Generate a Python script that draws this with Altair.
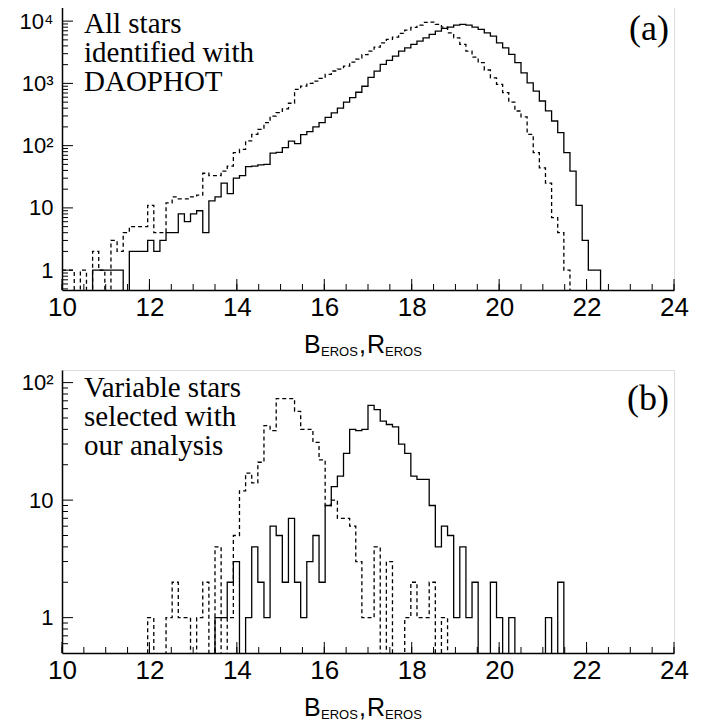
import altair as alt
import pandas as pd

BIN_START = 10.0
BIN_WIDTH = 0.14

# Panel (a): all stars identified with DAOPHOT (counts per 0.14 mag bin, 10..24)
A_SOLID = [0, 0, 0, 0, 0, 1, 1, 1, 1, 1,
           0, 2, 2, 2, 3, 2, 3, 4, 4, 8,
           6, 8, 9, 4, 13, 15, 25, 17, 30, 33,
           46, 47, 49, 50, 76, 78, 93, 118, 108, 150,
           168, 200, 235, 285, 335, 400, 500, 590, 720, 900,
           1250, 1578, 2017, 2340, 2747, 3300, 3730, 4220, 4780, 5400,
           6110, 6910, 7630, 8020, 8630, 8850, 8630, 8020, 7350, 6500,
           5750, 4490, 3730, 2920, 2150, 1480, 1020, 753, 521, 361,
           249, 162, 77, 39, 11, 3, 1, 1, 0, 0,
           0, 0, 0, 0, 0, 0, 0, 0, 0, 0]
A_DASHED = [1, 1, 0, 1, 0, 2, 1, 0, 3, 2,
            4, 5, 5, 5, 11, 4, 4, 12, 15, 14,
            14, 15, 16, 36, 33, 33, 39, 47, 77, 87,
            119, 152, 183, 234, 299, 340, 390, 480, 800, 905,
            1000, 1090, 1200, 1400, 1580, 1700, 1900, 2200, 2450, 2900,
            3300, 3830, 4490, 5080, 5540, 6340, 7170, 7910, 8630, 9520,
            9640, 8850, 8020, 6500, 5400, 4220, 3300, 2640, 2150, 1640,
            1230, 964, 708, 500, 360, 290, 152, 77, 44, 25,
            7, 4, 1, 0, 0, 0, 0, 0, 0, 0,
            0, 0, 0, 0, 0, 0, 0, 0, 0, 0]

# Panel (b): variable stars selected with our analysis
B_SOLID = [0, 0, 0, 0, 0, 0, 0, 0, 0, 0,
           0, 0, 0, 0, 0, 0, 0, 0, 0, 0,
           0, 0, 0, 0, 0, 1, 1, 2, 3, 0,
           1, 4, 2, 1, 6, 5, 2, 7, 2, 1,
           3, 5, 2, 9, 13, 16, 25, 40, 39, 40,
           64, 59, 47, 44, 42, 30, 25, 16, 15, 15,
           9, 4, 6, 5, 1, 4, 1, 2, 0, 0,
           2, 1, 0, 1, 0, 0, 0, 0, 0, 1,
           0, 2, 0, 0, 0, 0, 0, 0, 0, 0,
           0, 0, 0, 0, 0, 0, 0, 0, 0, 0]
B_DASHED = [0, 0, 0, 0, 0, 0, 0, 0, 0, 0,
            0, 0, 0, 0, 1, 0, 0, 1, 2, 1,
            1, 0, 1, 2, 0, 4, 0, 1, 5, 12,
            17, 14, 21, 43, 39, 73, 73, 73, 57, 40,
            40, 31, 22, 9, 10, 7, 7, 6, 3, 1,
            1, 4, 0, 3, 0, 0, 1, 2, 1, 1,
            2, 0, 1, 0, 0, 0, 0, 0, 0, 0,
            0, 0, 0, 0, 0, 0, 0, 0, 0, 0,
            0, 0, 0, 0, 0, 0, 0, 0, 0, 0,
            0, 0, 0, 0, 0, 0, 0, 0, 0, 0]

X_TICKS = [10, 12, 14, 16, 18, 20, 22, 24]
X_MINOR = [10 + 0.5 * i for i in range(29)]
Y_TICKS_A = [1, 10, 100, 1000, 10000]
Y_LABELS_A = ["1", "10", "10\u00b2", "10\u00b3", "10\u2074"]
Y_TICKS_B = [1, 10, 100]
Y_LABELS_B = ["1", "10", "10\u00b2"]
TEXT_A = ["All stars", "identified with", "DAOPHOT"]
TEXT_B = ["Variable stars", "selected with", "our analysis"]
TAG_A = "(a)"
TAG_B = "(b)"

W = 612
H_A = 284
H_B = 283
DOM_A = [0.48, 17500]
DOM_B = [0.5, 128]


def hist_frame(values, series):
    edges = [BIN_START + BIN_WIDTH * i for i in range(len(values) + 1)]
    counts = list(values) + [values[-1]]
    return pd.DataFrame({"edge": edges, "count": counts, "series": series})


def label_expr(ticks, labels):
    expr = "''"
    for v, lab in reversed(list(zip(ticks, labels))):
        expr = f"datum.value == {v} ? '{lab}' : ({expr})"
    return expr


def panel(solid, dashed, dom, h, ticks, labels, text_lines, tag, tag_y):
    xs = alt.Scale(domain=[10, 24], nice=False, zero=False)
    ys = alt.Scale(type="log", domain=dom, nice=False)
    ax_x = alt.Axis(
        values=X_TICKS, ticks=False, grid=False, title=None, format="d",
        labelFont="Liberation Sans", labelFontSize=26, labelColor="black",
        labelPadding=4, domainColor="black", domainWidth=1.5, labelFlush=False)
    ax_y = alt.Axis(
        values=ticks, ticks=False, grid=False, title=None,
        labelExpr=label_expr(ticks, labels),
        labelFont="Liberation Sans", labelFontSize=22, labelColor="black",
        labelPadding=9, domainColor="black", domainWidth=1.5,
        minExtent=53, maxExtent=53)
    df = pd.concat([hist_frame(solid, "solid"), hist_frame(dashed, "dashed")])
    lines = alt.Chart(df).transform_calculate(
        plot_count="max(datum.count, 0.05)"
    ).mark_line(interpolate="step-after", color="black", strokeWidth=1.3, clip=True).encode(
        x=alt.X("edge:Q", scale=xs, axis=ax_x),
        y=alt.Y("plot_count:Q", scale=ys, axis=ax_y),
        strokeDash=alt.StrokeDash("series:N", scale=alt.Scale(
            domain=["solid", "dashed"], range=[[1, 0], [4, 3]]), legend=None),
    )
    lo, hi = dom
    minor = []
    e = 0.1
    while e < hi:
        for m in range(2, 10):
            v = m * e
            if lo < v < hi:
                minor.append(v)
        e *= 10
    ymaj = alt.Chart(pd.DataFrame({"v": ticks})).mark_rule(color="black", strokeWidth=1).encode(
        y=alt.Y("v:Q", scale=ys, axis=ax_y), x=alt.value(0), x2=alt.value(11))
    ymin = alt.Chart(pd.DataFrame({"v": minor})).mark_rule(color="black", strokeWidth=1).encode(
        y=alt.Y("v:Q", scale=ys, axis=ax_y), x=alt.value(0), x2=alt.value(6))
    xmaj = alt.Chart(pd.DataFrame({"v": X_TICKS})).mark_rule(color="black", strokeWidth=1).encode(
        x=alt.X("v:Q", scale=xs, axis=ax_x), y=alt.value(h), y2=alt.value(h - 11))
    xmin = alt.Chart(pd.DataFrame({"v": X_MINOR})).mark_rule(color="black", strokeWidth=1).encode(
        x=alt.X("v:Q", scale=xs, axis=ax_x), y=alt.value(h), y2=alt.value(h - 6))
    txt = alt.Chart(pd.DataFrame({"t": ["\n".join(text_lines)]})).mark_text(
        font="Liberation Serif", fontSize=29, align="left", baseline="alphabetic",
        lineBreak="\n", lineHeight=29, color="black").encode(
        text="t:N", x=alt.value(22), y=alt.value(27))
    tg = alt.Chart(pd.DataFrame({"t": [tag]})).mark_text(
        font="Liberation Serif", fontSize=36, align="right", baseline="alphabetic",
        color="black").encode(text="t:N", x=alt.value(607), y=alt.value(tag_y))
    # axis title B_EROS, R_EROS as text pieces
    parts = [("B", 25, 242, 0), ("EROS", 13, 259, 3), (",", 25, 297, 0),
             ("R", 25, 305, 0), ("EROS", 13, 323, 3)]
    title_layers = []
    for s, fs, x, dy in parts:
        title_layers.append(alt.Chart(pd.DataFrame({"t": [s]})).mark_text(
            font="Liberation Sans", fontSize=fs, align="left", baseline="alphabetic",
            color="black").encode(text="t:N", x=alt.value(x), y=alt.value(h + 63 + dy)))
    return alt.layer(lines, ymaj, ymin, xmaj, xmin, txt, tg, *title_layers).properties(
        width=W, height=h)


top = panel(A_SOLID, A_DASHED, DOM_A, H_A, Y_TICKS_A, Y_LABELS_A, TEXT_A, TAG_A, 34)
bottom = panel(B_SOLID, B_DASHED, DOM_B, H_B, Y_TICKS_B, Y_LABELS_B, TEXT_B, TAG_B, 40)

chart = alt.vconcat(top, bottom, spacing=9).properties(
    padding={"left": 0, "top": -3, "right": 0, "bottom": 0}
).configure_view(stroke="#555", strokeWidth=1).configure(background="white")

chart.save("out.html", embed_options={"renderer": "svg", "actions": False})
